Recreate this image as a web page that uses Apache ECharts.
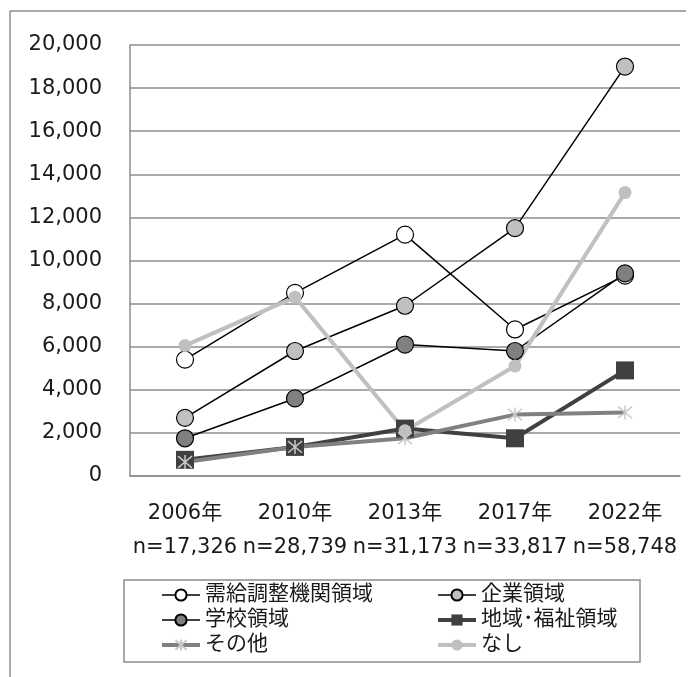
<!DOCTYPE html>
<html>
<head>
<meta charset="utf-8">
<script src="https://cdn.jsdelivr.net/npm/echarts@6/dist/echarts.min.js"></script>
<style>
html,body{margin:0;padding:0;background:#fff;}
#chart{width:696px;height:677px;}
</style>
</head>
<body>
<div id="chart"></div>
<script>
const years = ['2006年', '2010年', '2013年', '2017年', '2022年'];
const nLabels = ['n=17,326', 'n=28,739', 'n=31,173', 'n=33,817', 'n=58,748'];
const yTicks = { min: 0, max: 20000, interval: 2000 };

const seriesNames = ['需給調整機関領域', '企業領域', '学校領域', '地域･福祉領域', 'その他', 'なし'];
const jukyu = [5400, 8500, 11200, 6800, 9300];
const kigyo = [2700, 5800, 7900, 11500, 19000];
const gakko = [1750, 3600, 6100, 5800, 9400];
const chiiki = [750, 1350, 2200, 1750, 4900];
const sonota = [650, 1350, 1750, 2850, 2950];
const nashi = [6050, 8300, 2100, 5100, 13150];

const FONT = '"DejaVu Sans", "Noto Sans CJK JP", sans-serif';
const TXT = '#1a1a1a';
const asterisk = 'path://M0,0L10,10M10,0L0,10M5,-1L5,11';

const chart = echarts.init(document.getElementById('chart'), null, { renderer: 'canvas' });

function circleSeries(name, data, fill) {
  return {
    name, type: 'line', data,
    symbol: 'circle', symbolSize: 17,
    lineStyle: { color: '#000', width: 1.5 },
    itemStyle: { color: fill, borderColor: '#000', borderWidth: 1.2 },
    emphasis: { disabled: true }
  };
}

const legendText = { fontSize: 21, lineHeight: 24, color: TXT, fontFamily: FONT };

const option = {
  animation: false,
  textStyle: { fontFamily: FONT },
  grid: { left: 130, right: 16, top: 45, bottom: 201, containLabel: false },
  xAxis: {
    type: 'category',
    data: years,
    boundaryGap: true,
    axisLine: { show: true, lineStyle: { color: '#8c8c8c', width: 1.5 } },
    axisTick: { show: false },
    axisLabel: {
      interval: 0,
      hideOverlap: false,
      margin: 21,
      fontSize: 21,
      lineHeight: 34,
      color: TXT,
      fontFamily: FONT,
      formatter: (v, i) => v + '\n' + nLabels[i]
    },
    splitLine: { show: false }
  },
  yAxis: {
    type: 'value',
    min: yTicks.min, max: yTicks.max, interval: yTicks.interval,
    axisLine: { show: true, lineStyle: { color: '#8c8c8c', width: 1.5 } },
    axisTick: { show: false },
    axisLabel: {
      margin: 28, fontSize: 21, color: TXT, fontFamily: FONT,
      formatter: v => v.toLocaleString('en-US')
    },
    splitLine: { show: true, lineStyle: { color: '#8c8c8c', width: 1.5 } }
  },
  legend: [
    {
      data: [
        { name: seriesNames[0], lineStyle: { width: 1.5, color: '#000' } },
        { name: seriesNames[2], lineStyle: { width: 1.5, color: '#000' } },
        { name: seriesNames[4], lineStyle: { width: 4, color: '#808080' } }
      ],
      orient: 'vertical', left: 160, top: 583, padding: 0,
      itemWidth: 38, itemHeight: 14, itemGap: 1,
      textStyle: legendText,
      selectedMode: false
    },
    {
      data: [
        { name: seriesNames[1], lineStyle: { width: 1.5, color: '#000' } },
        { name: seriesNames[3], lineStyle: { width: 4, color: '#404040' } },
        { name: seriesNames[5], lineStyle: { width: 4, color: '#c0c0c0' } }
      ],
      orient: 'vertical', left: 436, top: 583, padding: 0,
      itemWidth: 38, itemHeight: 14, itemGap: 1,
      textStyle: legendText,
      selectedMode: false
    }
  ],
  graphic: [
    { type: 'line', shape: { x1: 10, y1: 11, x2: 686, y2: 11 }, style: { stroke: '#8c8c8c', lineWidth: 1.5 }, silent: true },
    { type: 'line', shape: { x1: 10, y1: 11, x2: 10, y2: 677 }, style: { stroke: '#8c8c8c', lineWidth: 1.5 }, silent: true },
    { type: 'rect', shape: { x: 124, y: 580, width: 516, height: 82 }, style: { fill: 'none', stroke: '#8c8c8c', lineWidth: 1.5 }, silent: true }
  ],
  series: [
    circleSeries(seriesNames[0], jukyu, '#ffffff'),
    circleSeries(seriesNames[1], kigyo, '#c0c0c0'),
    circleSeries(seriesNames[2], gakko, '#808080'),
    {
      name: seriesNames[3], type: 'line', data: chiiki,
      symbol: 'rect', symbolSize: 18,
      lineStyle: { color: '#404040', width: 4 },
      itemStyle: { color: '#404040' },
      emphasis: { disabled: true }
    },
    {
      name: seriesNames[4], type: 'line', data: sonota,
      symbol: asterisk, symbolSize: 14,
      lineStyle: { color: '#808080', width: 4 },
      itemStyle: { color: 'rgba(0,0,0,0)', borderColor: '#c8c8c8', borderWidth: 1.5 },
      emphasis: { disabled: true }
    },
    {
      name: seriesNames[5], type: 'line', data: nashi,
      symbol: 'circle', symbolSize: 13,
      lineStyle: { color: '#c0c0c0', width: 4 },
      itemStyle: { color: '#c0c0c0' },
      emphasis: { disabled: true }
    }
  ]
};
chart.setOption(option);
</script>
</body>
</html>
